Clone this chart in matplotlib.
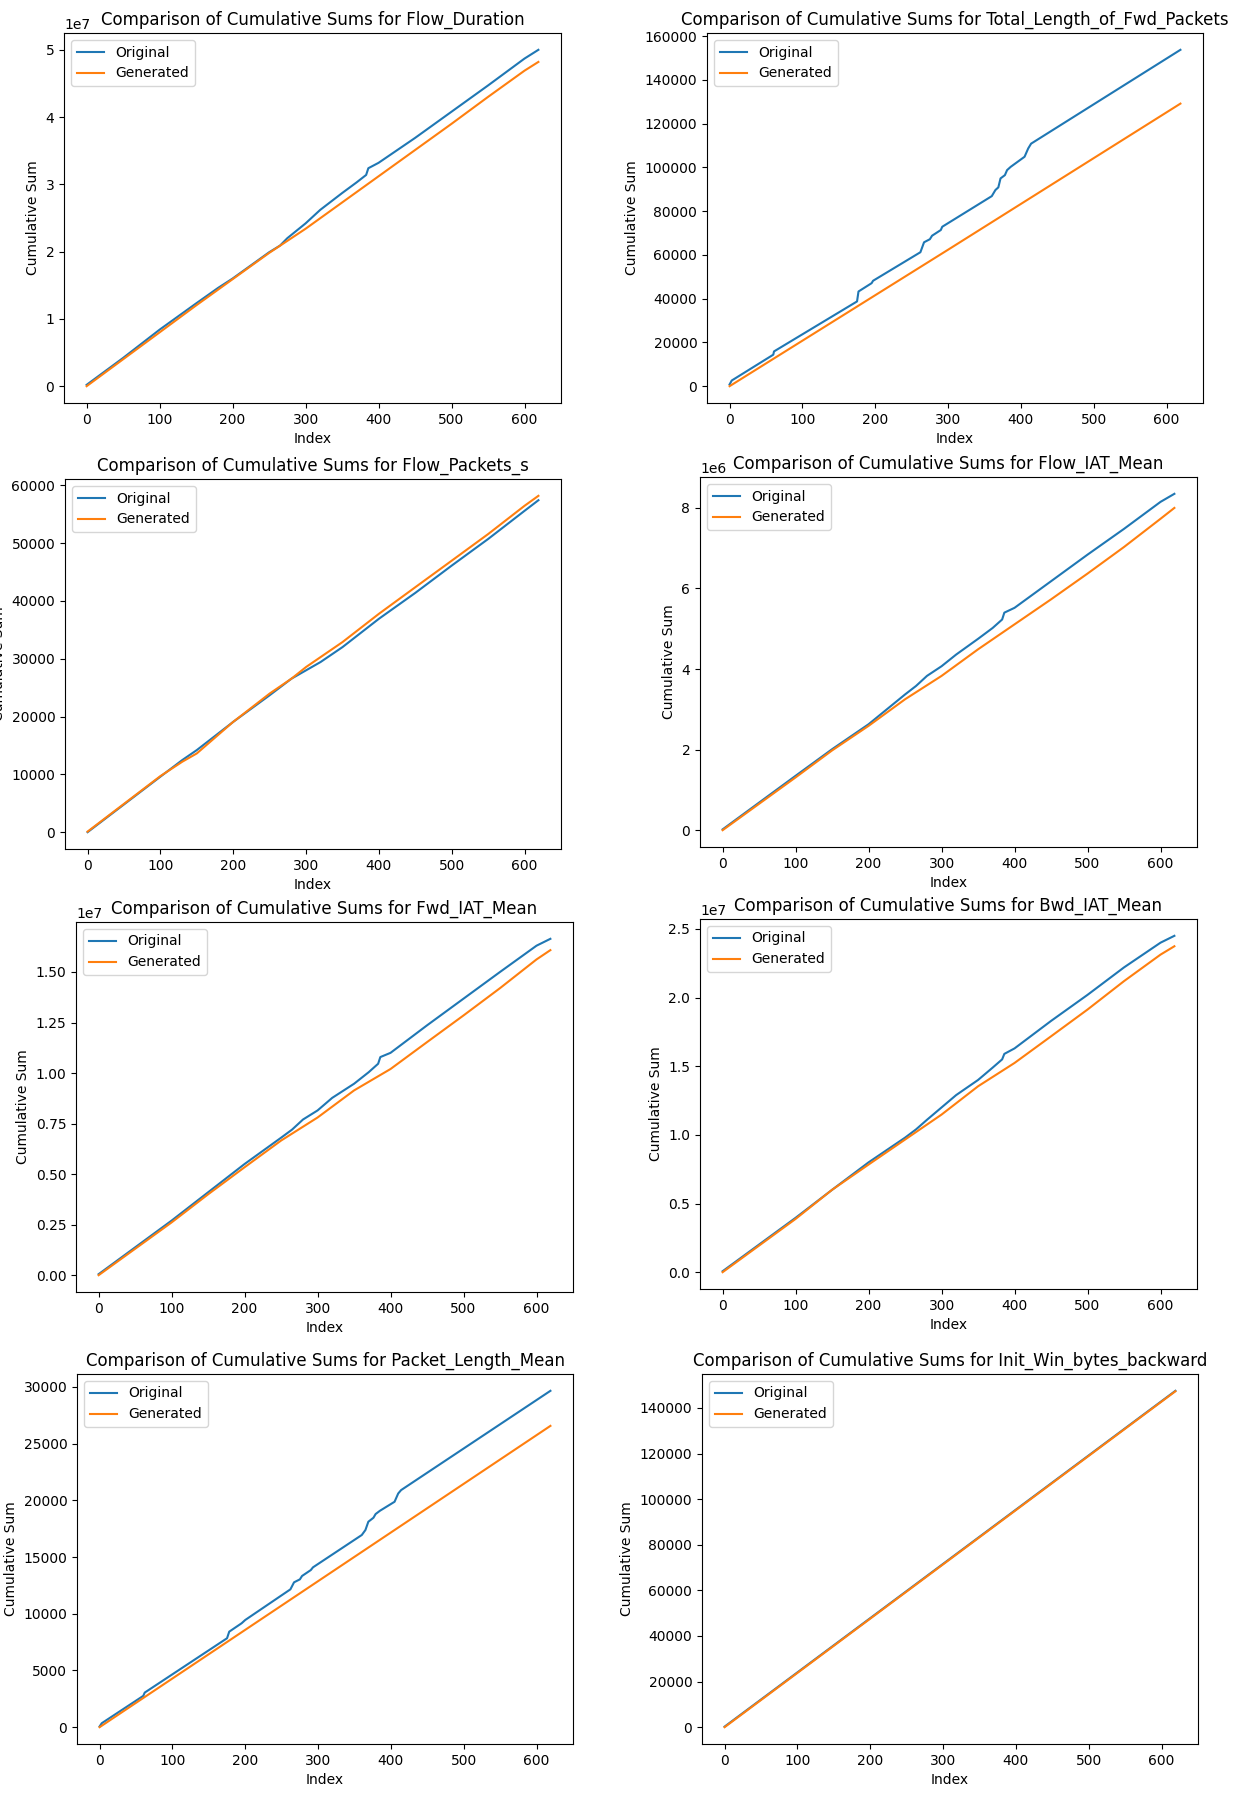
import numpy as np
import matplotlib
matplotlib.use("Agg")
import matplotlib.pyplot as plt

# cumulative sums (index, value) - knots of each curve
features = ["Flow_Duration", "Total_Length_of_Fwd_Packets", "Flow_Packets_s", "Flow_IAT_Mean",
            "Fwd_IAT_Mean", "Bwd_IAT_Mean", "Packet_Length_Mean", "Init_Win_bytes_backward"]

# Flow_Duration
fd_orig_idx = [0, 50, 100, 150, 180, 200, 250, 265, 275, 300, 320, 350, 370, 383, 386, 400, 450, 500, 550, 600, 619]
fd_orig_val = [0.02e7, 0.42e7, 0.84e7, 1.23e7, 1.46e7, 1.60e7, 1.99e7, 2.09e7, 2.20e7, 2.42e7, 2.62e7, 2.87e7,
               3.03e7, 3.14e7, 3.24e7, 3.32e7, 3.69e7, 4.08e7, 4.47e7, 4.87e7, 5.00e7]
fd_gen_idx = [0, 50, 100, 150, 200, 250, 300, 350, 400, 450, 500, 550, 600, 619]
fd_gen_val = [0.0, 0.40e7, 0.80e7, 1.20e7, 1.59e7, 1.98e7, 2.34e7, 2.73e7, 3.12e7, 3.51e7, 3.90e7, 4.30e7, 4.69e7, 4.82e7]

# Total_Length_of_Fwd_Packets
tl_orig_idx = [0, 3, 60, 61, 175, 177, 195, 197, 262, 267, 275, 278, 290, 292, 360, 365, 369, 372, 378, 381,
               386, 405, 410, 414, 619]
tl_orig_val = [800, 2600, 14400, 15900, 38750, 43300, 47100, 48200, 61250, 65800, 67200, 68800, 71400, 72900,
               86900, 89700, 90900, 95000, 96500, 98800, 100300, 104900, 108700, 110900, 153800]
tl_gen_idx = [0, 300, 619]
tl_gen_val = [0, 62400, 129200]

# Flow_Packets_s
fp_orig_idx = [0, 100, 130, 150, 200, 250, 280, 300, 320, 350, 400, 450, 500, 550, 600, 619]
fp_orig_val = [0, 9600, 12470, 14200, 19080, 23680, 26550, 27990, 29430, 32000, 36900, 41380, 46100, 50700,
               55570, 57400]
fp_gen_idx = [0, 100, 130, 150, 200, 250, 280, 300, 350, 400, 450, 500, 550, 600, 619]
fp_gen_val = [100, 9700, 12180, 13620, 19080, 23970, 26550, 28560, 32870, 37760, 42360, 46950, 51550, 56440, 58160]

# Flow_IAT_Mean
fi_orig_idx = [0, 100, 150, 200, 250, 265, 280, 300, 320, 350, 370, 383, 386, 400, 450, 500, 550, 600, 619]
fi_orig_val = [0.02e6, 1.35e6, 2.01e6, 2.63e6, 3.37e6, 3.58e6, 3.83e6, 4.07e6, 4.36e6, 4.75e6, 5.02e6, 5.23e6,
               5.40e6, 5.52e6, 6.18e6, 6.84e6, 7.48e6, 8.15e6, 8.35e6]
fi_gen_idx = [0, 100, 150, 200, 250, 300, 350, 400, 450, 500, 550, 600, 619]
fi_gen_val = [0.0, 1.31e6, 1.98e6, 2.59e6, 3.25e6, 3.83e6, 4.49e6, 5.11e6, 5.73e6, 6.37e6, 7.03e6, 7.73e6, 8.00e6]

# Fwd_IAT_Mean
fw_orig_idx = [0, 100, 150, 200, 250, 265, 280, 300, 320, 350, 370, 383, 386, 400, 450, 500, 550, 600, 619]
fw_orig_val = [0.005e7, 0.27e7, 0.41e7, 0.55e7, 0.68e7, 0.72e7, 0.77e7, 0.815e7, 0.877e7, 0.947e7, 1.004e7,
               1.046e7, 1.079e7, 1.10e7, 1.236e7, 1.368e7, 1.50e7, 1.630e7, 1.664e7]
fw_gen_idx = [0, 100, 150, 200, 250, 300, 350, 400, 450, 500, 550, 600, 619]
fw_gen_val = [0.0, 0.261e7, 0.40e7, 0.534e7, 0.666e7, 0.78e7, 0.914e7, 1.02e7, 1.153e7, 1.285e7, 1.42e7,
              1.562e7, 1.608e7]

# Bwd_IAT_Mean
bw_orig_idx = [0, 100, 150, 200, 250, 265, 280, 300, 320, 350, 370, 383, 386, 400, 450, 500, 550, 600, 619]
bw_orig_val = [0.007e7, 0.396e7, 0.60e7, 0.80e7, 0.98e7, 1.04e7, 1.11e7, 1.20e7, 1.29e7, 1.40e7, 1.49e7,
               1.55e7, 1.59e7, 1.63e7, 1.83e7, 2.02e7, 2.22e7, 2.40e7, 2.45e7]
bw_gen_idx = [0, 100, 150, 200, 250, 300, 350, 400, 450, 500, 550, 600, 619]
bw_gen_val = [0.0, 0.388e7, 0.60e7, 0.784e7, 0.966e7, 1.148e7, 1.354e7, 1.524e7, 1.718e7, 1.913e7, 2.12e7,
              2.313e7, 2.374e7]

# Packet_Length_Mean
pl_orig_idx = [0, 3, 60, 62, 175, 178, 195, 200, 262, 267, 275, 278, 290, 293, 360, 365, 369, 376, 379, 385,
               405, 410, 414, 619]
pl_orig_val = [60, 350, 2760, 3050, 7840, 8420, 9160, 9450, 12150, 12770, 13030, 13330, 13850, 14090, 16940,
               17380, 18110, 18460, 18790, 19080, 19870, 20600, 20900, 29650]
pl_gen_idx = [0, 619]
pl_gen_val = [0, 26560]

# Init_Win_bytes_backward
iw_orig_idx = [0, 619]
iw_orig_val = [240, 147500]
iw_gen_idx = [0, 619]
iw_gen_val = [0, 147300]

series = [
    (fd_orig_idx, fd_orig_val, fd_gen_idx, fd_gen_val),
    (tl_orig_idx, tl_orig_val, tl_gen_idx, tl_gen_val),
    (fp_orig_idx, fp_orig_val, fp_gen_idx, fp_gen_val),
    (fi_orig_idx, fi_orig_val, fi_gen_idx, fi_gen_val),
    (fw_orig_idx, fw_orig_val, fw_gen_idx, fw_gen_val),
    (bw_orig_idx, bw_orig_val, bw_gen_idx, bw_gen_val),
    (pl_orig_idx, pl_orig_val, pl_gen_idx, pl_gen_val),
    (iw_orig_idx, iw_orig_val, iw_gen_idx, iw_gen_val),
]

W, H = 1257, 1797
# axes boxes in pixels: left, top, right, bottom
boxes = [
    (64, 33, 561, 403), (707, 33, 1203, 403),
    (65, 479, 561, 849), (700, 477, 1197, 847),
    (76, 922, 573, 1292), (700, 919, 1197, 1289),
    (77, 1374, 573, 1744), (702, 1374, 1198, 1744),
]

fig = plt.figure(figsize=(W / 100, H / 100), dpi=100)

for name, (oi, ov, gi, gv), (l, t, r, b) in zip(features, series, boxes):
    ax = fig.add_axes([l / W, 1 - b / H, (r - l) / W, (b - t) / H])
    ax.plot(oi, ov, label='Original')
    ax.plot(gi, gv, label='Generated')
    ax.set_xlim(-31, 650)
    ax.set_title(f'Comparison of Cumulative Sums for {name}')
    ax.set_xlabel('Index')
    ax.set_ylabel('Cumulative Sum')
    ax.legend(loc='upper left')

fig.savefig('out.png', dpi=100)
